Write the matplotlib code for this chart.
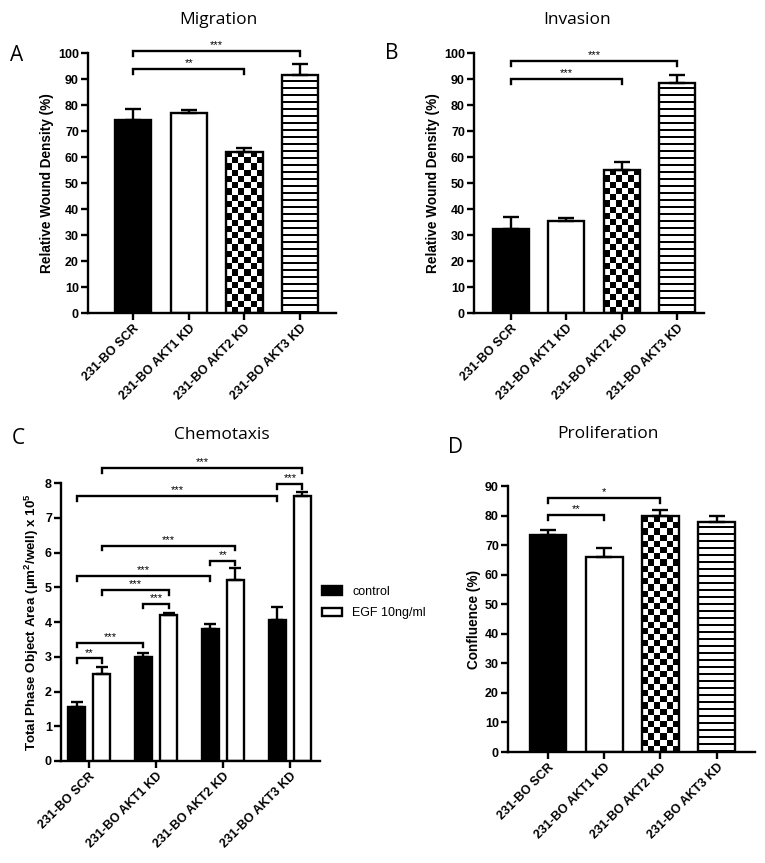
import numpy as np
import matplotlib.pyplot as plt
from matplotlib.patches import Patch

plt.rcParams['font.family'] = ['Liberation Sans', 'DejaVu Sans']
plt.rcParams['mathtext.fontset'] = 'custom'
plt.rcParams['mathtext.rm'] = 'Liberation Sans'
plt.rcParams['mathtext.bf'] = 'Liberation Sans:bold'

groups = ['231-BO SCR', '231-BO AKT1 KD', '231-BO AKT2 KD', '231-BO AKT3 KD']
fills = ['black', 'white', 'checker', 'stripes']

migration = [74.5, 77.0, 62.0, 91.5]
migration_err = [4.0, 1.0, 1.5, 4.5]
migration_sig = [(0, 3, 101, '***'), (0, 2, 94, '**')]

invasion = [32.5, 35.3, 55.0, 88.7]
invasion_err = [4.5, 1.3, 3.0, 3.0]
invasion_sig = [(0, 3, 97, '***'), (0, 2, 90, '***')]

chemo_control = [1.55, 2.98, 3.80, 4.07]
chemo_control_err = [0.15, 0.12, 0.13, 0.35]
chemo_egf = [2.50, 4.20, 5.20, 7.62]
chemo_egf_err = [0.20, 0.07, 0.35, 0.12]
chemo_labels = ['control', 'EGF 10ng/ml']
# (group, series, group, series, height, stars); series 0 = control, 1 = EGF
chemo_sig = [(0, 1, 3, 1, 8.43, '***'), (3, 0, 3, 1, 7.98, '***'),
             (0, 0, 3, 0, 7.62, '***'), (0, 1, 2, 1, 6.20, '***'),
             (2, 0, 2, 1, 5.77, '**'), (0, 0, 2, 0, 5.33, '***'),
             (0, 1, 1, 1, 4.93, '***'), (1, 0, 1, 1, 4.53, '***'),
             (0, 0, 1, 0, 3.41, '***'), (0, 0, 0, 1, 2.95, '**')]

proliferation = [73.5, 66.0, 79.8, 78.0]
proliferation_err = [1.5, 3.2, 2.0, 2.0]
proliferation_sig = [(0, 2, 86, '*'), (0, 1, 80.3, '**')]

LW = 1.7


def fill_pattern(ax, bar, kind):
    x0, y0 = bar.get_x(), bar.get_y()
    w, h = bar.get_width(), bar.get_height()
    (px0, py0), (px1, py1) = ax.transData.transform([(x0, y0), (x0 + w, y0 + h)])
    wpx, hpx = abs(px1 - px0), abs(py1 - py0)
    if kind == 'checker':
        nx = max(1, int(round(wpx / 6.2)))
        ny = max(1, int(round(hpx / 6.2)))
        arr = np.indices((ny, nx)).sum(axis=0) % 2
    else:
        rows = int(round(hpx))
        arr = ((np.arange(rows) % 7) < 2).astype(float)[:, None]
    im = ax.imshow(arr, cmap='gray_r', vmin=0, vmax=1, extent=[x0, x0 + w, y0, y0 + h],
                   aspect='auto', interpolation='nearest', origin='lower', zorder=1.5)
    im.set_clip_path(bar)


def style_axes(ax, xlim, ymax, step, ylabel, labelsize=9.8):
    ax.set_xlim(*xlim)
    ax.set_ylim(0, ymax)
    for s in ['top', 'right']:
        ax.spines[s].set_visible(False)
    for s in ['left', 'bottom']:
        ax.spines[s].set_linewidth(LW)
    ax.tick_params(width=LW, length=5, labelsize=9, pad=1.5)
    ax.set_yticks(np.arange(0, ymax + step / 2, step))
    for lbl in ax.get_yticklabels():
        lbl.set_fontweight('bold')
    ax.set_xticks(range(len(groups)))
    ax.set_xticklabels(groups, rotation=45, ha='right', rotation_mode='anchor',
                       fontweight='bold', fontsize=9)
    ax.set_ylabel(ylabel, fontweight='bold', fontsize=labelsize, labelpad=3)


def bracket(ax, xa, xb, y, tick, stars):
    ax.plot([xa, xa, xb, xb], [y - tick, y, y, y - tick], color='k', lw=LW,
            clip_on=False, solid_joinstyle='miter')
    ax.text((xa + xb) / 2, y + tick * 0.15, stars, ha='center', va='bottom',
            fontsize=8, clip_on=False)


def single_panel(rect, vals, errs, sig, xlim, ymax, step, ylabel):
    ax = fig.add_axes(rect)
    x = np.arange(len(groups))
    style_axes(ax, xlim, ymax, step, ylabel)
    faces = ['black' if f == 'black' else 'white' if f == 'white' else 'none' for f in fills]
    bars = ax.bar(x, vals, width=0.65, color=faces, edgecolor='k', linewidth=LW, zorder=2)
    ax.errorbar(x, vals, yerr=[np.zeros(len(vals)), errs], fmt='none', ecolor='k',
                elinewidth=LW, capsize=6, capthick=LW, zorder=3)
    for bar, f in zip(bars, fills):
        if f in ('checker', 'stripes'):
            fill_pattern(ax, bar, f)
    ax.set_xlim(*xlim)
    ax.set_ylim(0, ymax)
    tick = ymax * 0.02
    for a, b, y, stars in sig:
        bracket(ax, a, b, y, tick, stars)
    return ax


fig = plt.figure(figsize=(7.65, 8.63), dpi=100)

single_panel([0.115, 0.637, 0.324, 0.3013], migration, migration_err, migration_sig,
             (-0.81, 3.64), 100, 10, 'Relative Wound Density (%)')
single_panel([0.6196, 0.637, 0.3006, 0.3013], invasion, invasion_err, invasion_sig,
             (-0.67, 3.49), 100, 10, 'Relative Wound Density (%)')
single_panel([0.664, 0.1286, 0.323, 0.3082], proliferation, proliferation_err,
             proliferation_sig, (-0.71, 3.68), 90, 10, 'Confluence (%)')

# chemotaxis grouped panel
axc = fig.add_axes([0.0797, 0.1182, 0.3386, 0.3221])
style_axes(axc, (-0.42, 3.45), 8, 1,
           r'Total Phase Object Area (µm$^{\mathbf{2}}$/well) x 10$^{\mathbf{5}}$', labelsize=9.6)
xg = np.arange(len(groups))
off, bw = 0.187, 0.254
axc.bar(xg - off, chemo_control, width=bw, color='black', edgecolor='k', linewidth=LW, zorder=2)
axc.bar(xg + off, chemo_egf, width=bw, color='white', edgecolor='k', linewidth=LW, zorder=2)
axc.errorbar(xg - off, chemo_control, yerr=[np.zeros(4), chemo_control_err], fmt='none',
             ecolor='k', elinewidth=LW, capsize=4, capthick=LW, zorder=3)
axc.errorbar(xg + off, chemo_egf, yerr=[np.zeros(4), chemo_egf_err], fmt='none',
             ecolor='k', elinewidth=LW, capsize=4, capthick=LW, zorder=3)
sx = [-off, off]
for g1, s1, g2, s2, y, stars in chemo_sig:
    bracket(axc, g1 + sx[s1], g2 + sx[s2], y, 0.14, stars)

handles = [Patch(facecolor='black', edgecolor='k', linewidth=LW),
           Patch(facecolor='white', edgecolor='k', linewidth=LW)]
fig.legend(handles, chemo_labels, loc='upper left', bbox_to_anchor=(0.415, 0.327),
           frameon=False, fontsize=9, handlelength=1.6, handleheight=0.65,
           labelspacing=0.75, handletextpad=0.8, borderaxespad=0)

title_font = dict(family=['Open Sans', 'DejaVu Sans'], fontsize=12.5, ha='center', va='center')
fig.text(0.286, 0.977, 'Migration', **title_font)
fig.text(0.754, 0.977, 'Invasion', **title_font)
fig.text(0.290, 0.496, 'Chemotaxis', **title_font)
fig.text(0.795, 0.497, 'Proliferation', **title_font)

letter_font = dict(family=['Open Sans', 'DejaVu Sans'], fontsize=15, ha='center', va='center')
fig.text(0.022, 0.936, 'A', **letter_font)
fig.text(0.512, 0.938, 'B', **letter_font)
fig.text(0.024, 0.492, 'C', **letter_font)
fig.text(0.595, 0.482, 'D', **letter_font)

fig.savefig('out.png', dpi=100)
